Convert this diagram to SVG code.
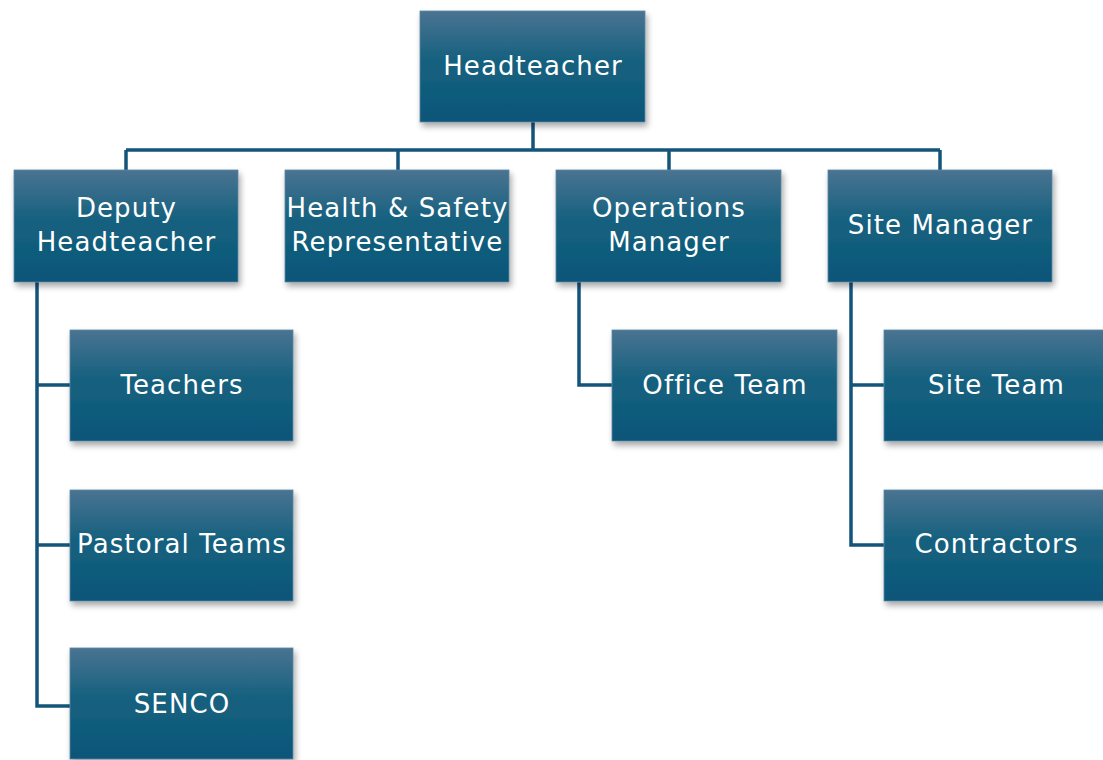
<svg xmlns="http://www.w3.org/2000/svg" width="1103" height="760" viewBox="0 0 1103 760">
<defs>
<linearGradient id="g" x1="0" y1="0" x2="0" y2="1">
<stop offset="0" stop-color="#4a7391"/>
<stop offset="0.45" stop-color="#15617f"/>
<stop offset="1" stop-color="#0b5679"/>
</linearGradient>
<filter id="sh" x="-10%" y="-10%" width="125%" height="130%">
<feGaussianBlur in="SourceAlpha" stdDeviation="3"/>
<feOffset dx="2" dy="4"/>
<feComponentTransfer><feFuncA type="linear" slope="0.35"/></feComponentTransfer>
<feMerge><feMergeNode/><feMergeNode in="SourceGraphic"/></feMerge>
</filter>
</defs>
<style>
.box{fill:url(#g);stroke:#5a87a3;stroke-width:0.8;filter:url(#sh)}
.t{font-family:"DejaVu Sans","Open Sans",sans-serif;font-size:26px;letter-spacing:1.1px;fill:#ffffff;text-anchor:middle}
.c{fill:none;stroke:#13557a;stroke-width:3.5}
</style>
<rect width="1103" height="760" fill="#ffffff"/>
<g id="connectors">
<path class="c" d="M533 122V150M126 150H940M126 150V170M398 150V170M669 150V170M940 150V170"/>
<path class="c" d="M37 282V706H70M37 385H70M37 545H70"/>
<path class="c" d="M579 282V385H612"/>
<path class="c" d="M851 282V545H884M851 385H884"/>
</g>
<g id="headteacher"><rect class="box" x="420" y="11" width="225" height="111"/><text class="t" x="533" y="75">Headteacher</text></g>
<g id="deputy"><rect class="box" x="14" y="170" width="224" height="112"/><text class="t" x="126.5" y="217">Deputy</text><text class="t" x="126.5" y="251">Headteacher</text></g>
<g id="health"><rect class="box" x="285" y="170" width="224" height="112"/><text class="t" x="397.5" y="217">Health &amp; Safety</text><text class="t" x="397.5" y="251">Representative</text></g>
<g id="operations"><rect class="box" x="556" y="170" width="225" height="112"/><text class="t" x="669" y="217">Operations</text><text class="t" x="669" y="251">Manager</text></g>
<g id="site-manager"><rect class="box" x="828" y="170" width="224" height="112"/><text class="t" x="940.5" y="234">Site Manager</text></g>
<g id="teachers"><rect class="box" x="70" y="330" width="223" height="111"/><text class="t" x="182" y="394">Teachers</text></g>
<g id="pastoral"><rect class="box" x="70" y="490" width="223" height="111"/><text class="t" x="182" y="553">Pastoral Teams</text></g>
<g id="senco"><rect class="box" x="70" y="648" width="223" height="111"/><text class="t" x="182" y="713">SENCO</text></g>
<g id="office"><rect class="box" x="612" y="330" width="225" height="111"/><text class="t" x="725" y="394">Office Team</text></g>
<g id="site-team"><rect class="box" x="884" y="330" width="225" height="111"/><text class="t" x="996.5" y="394">Site Team</text></g>
<g id="contractors"><rect class="box" x="884" y="490" width="225" height="111"/><text class="t" x="996.5" y="553">Contractors</text></g>
</svg>
